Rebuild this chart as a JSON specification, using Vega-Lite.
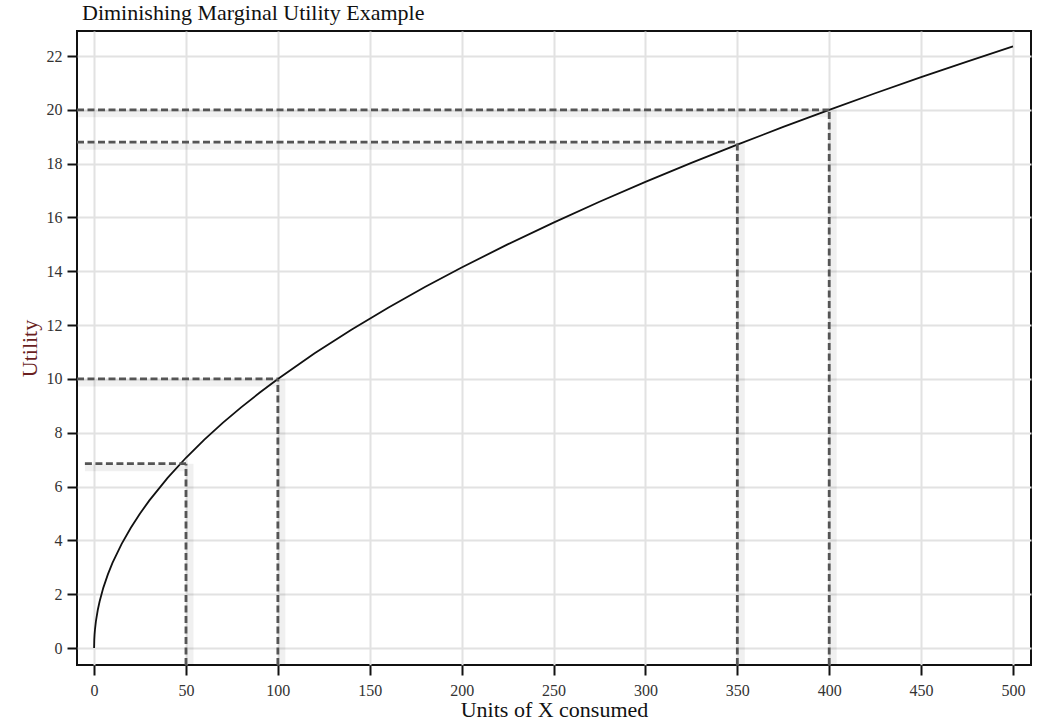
{
  "$schema": "https://vega.github.io/schema/vega-lite/v6.json",
  "width": 954,
  "height": 634,
  "autosize": "none",
  "padding": {"left": 77, "top": 31, "right": 8, "bottom": 56},
  "background": "white",
  "title": {
    "text": "Diminishing Marginal Utility Example",
    "anchor": "start",
    "frame": "group",
    "font": "Liberation Serif",
    "fontSize": 22,
    "fontWeight": "normal",
    "color": "#111",
    "offset": 6,
    "dx": 5
  },
  "config": {
    "view": {"stroke": "#111", "strokeWidth": 2},
    "axis": {
      "labelFont": "Liberation Serif",
      "labelFontSize": 16,
      "labelColor": "#333",
      "titleFont": "Liberation Serif",
      "titleFontWeight": "normal",
      "titleFontSize": 22,
      "gridColor": "#e2e2e2",
      "gridWidth": 2,
      "tickColor": "#111",
      "tickWidth": 2,
      "tickSize": 10,
      "domain": false
    }
  },
  "datasets": {
    "curve": [
      {"x": 0, "u": 0}, {"x": 0.1, "u": 0.316}, {"x": 0.25, "u": 0.5}, {"x": 0.5, "u": 0.707},
      {"x": 1, "u": 1}, {"x": 2, "u": 1.414}, {"x": 3, "u": 1.732}, {"x": 5, "u": 2.236},
      {"x": 7.5, "u": 2.739}, {"x": 10, "u": 3.162}, {"x": 15, "u": 3.873}, {"x": 20, "u": 4.472},
      {"x": 25, "u": 5}, {"x": 30, "u": 5.477}, {"x": 40, "u": 6.325}, {"x": 50, "u": 7.071},
      {"x": 60, "u": 7.746}, {"x": 70, "u": 8.367}, {"x": 80, "u": 8.944}, {"x": 90, "u": 9.487},
      {"x": 100, "u": 10}, {"x": 120, "u": 10.954}, {"x": 140, "u": 11.832}, {"x": 160, "u": 12.649},
      {"x": 180, "u": 13.416}, {"x": 200, "u": 14.142}, {"x": 225, "u": 15}, {"x": 250, "u": 15.811},
      {"x": 275, "u": 16.583}, {"x": 300, "u": 17.321}, {"x": 325, "u": 18.028}, {"x": 350, "u": 18.708},
      {"x": 375, "u": 19.365}, {"x": 400, "u": 20}, {"x": 425, "u": 20.616}, {"x": 450, "u": 21.213},
      {"x": 475, "u": 21.794}, {"x": 500, "u": 22.361}
    ],
    "hlines": [
      {"x1": -5, "x2": 50, "y": 6.85},
      {"x1": -9.3, "x2": 100, "y": 10},
      {"x1": -9.3, "x2": 350, "y": 18.8},
      {"x1": -9.3, "x2": 400, "y": 20}
    ],
    "vlines": [
      {"x": 50, "y1": -0.63, "y2": 6.85},
      {"x": 100, "y1": -0.63, "y2": 10},
      {"x": 350, "y1": -0.63, "y2": 18.8},
      {"x": 400, "y1": -0.63, "y2": 20}
    ]
  },
  "layer": [
    {
      "data": {"name": "curve"},
      "mark": {"type": "line", "color": "#111", "strokeWidth": 1.8, "clip": true},
      "encoding": {
        "x": {
          "field": "x", "type": "quantitative",
          "scale": {"domain": [-9.3, 509.8], "nice": false, "zero": false},
          "axis": {"values": [0, 50, 100, 150, 200, 250, 300, 350, 400, 450, 500], "title": "Units of X consumed", "labelFontSize": 16, "labelPadding": 7, "titlePadding": 1, "titleColor": "#111"}
        },
        "y": {
          "field": "u", "type": "quantitative",
          "scale": {"domain": [-0.63, 22.93], "nice": false, "zero": false},
          "axis": {"values": [0, 2, 4, 6, 8, 10, 12, 14, 16, 18, 20, 22], "title": "Utility", "labelFontSize": 16, "labelPadding": 5, "titlePadding": 5, "titleColor": "#6a1f1f"}
        }
      }
    },
    {
      "data": {"name": "hlines"},
      "mark": {"type": "rule", "color": "#000", "opacity": 0.06, "strokeWidth": 7, "yOffset": 4},
      "encoding": {
        "x": {"field": "x1", "type": "quantitative"},
        "x2": {"field": "x2"},
        "y": {"field": "y", "type": "quantitative"}
      }
    },
    {
      "data": {"name": "vlines"},
      "mark": {"type": "rule", "color": "#000", "opacity": 0.06, "strokeWidth": 7, "xOffset": 4},
      "encoding": {
        "x": {"field": "x", "type": "quantitative"},
        "y": {"field": "y1", "type": "quantitative"},
        "y2": {"field": "y2"}
      }
    },
    {
      "data": {"name": "hlines"},
      "mark": {"type": "rule", "color": "#555", "strokeWidth": 2.8, "strokeDash": [7, 3.5]},
      "encoding": {
        "x": {"field": "x1", "type": "quantitative"},
        "x2": {"field": "x2"},
        "y": {"field": "y", "type": "quantitative"}
      }
    },
    {
      "data": {"name": "vlines"},
      "mark": {"type": "rule", "color": "#555", "strokeWidth": 2.8, "strokeDash": [7, 3.5]},
      "encoding": {
        "x": {"field": "x", "type": "quantitative"},
        "y": {"field": "y1", "type": "quantitative"},
        "y2": {"field": "y2"}
      }
    }
  ]
}
